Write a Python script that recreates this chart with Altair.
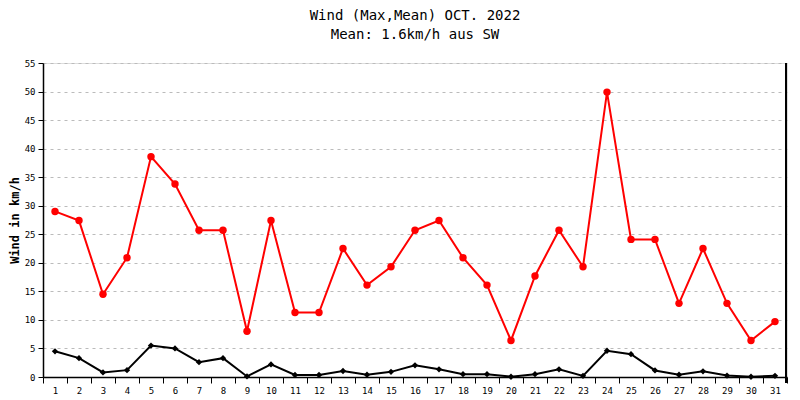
import altair as alt
import pandas as pd

days = list(range(1, 32))
wind_max = [29.0, 27.4, 14.5, 20.9, 38.6, 33.8, 25.7, 25.7, 8.0, 27.4,
            11.3, 11.3, 22.5, 16.1, 19.3, 25.7, 27.4, 20.9, 16.1, 6.4,
            17.7, 25.7, 19.3, 49.9, 24.1, 24.1, 12.9, 22.5, 12.9, 6.4, 9.7]
wind_mean = [4.5, 3.3, 0.8, 1.2, 5.5, 5.0, 2.6, 3.3, 0.1, 2.2,
             0.35, 0.35, 1.05, 0.4, 0.9, 2.05, 1.35, 0.5, 0.5, 0.05,
             0.5, 1.35, 0.2, 4.6, 4.0, 1.15, 0.4, 1.0, 0.25, 0.05, 0.2]
y_ticks = [0, 5, 10, 15, 20, 25, 30, 35, 40, 45, 50, 55]

df = pd.DataFrame({"day": days, "max": wind_max, "mean": wind_mean})

FONT = "DejaVu Sans Mono"
W, H = 744, 314

x_axis = alt.Axis(title=None, labelAngle=0, tickBand="extent", domainColor="black",
                  tickColor="black", tickSize=6, labelFont=FONT, labelFontSize=9,
                  labelColor="black", labelPadding=3, grid=False, domainWidth=1.5)
x_scale = alt.Scale(type="band", paddingInner=0, paddingOuter=0)
y_scale = alt.Scale(domain=[0, 55], nice=False)
y_axis = alt.Axis(title="Wind in km/h", values=y_ticks, titleFont=FONT, titleFontSize=12,
                  titleFontWeight="bold", titleColor="black", titlePadding=3,
                  labelFont=FONT, labelFontSize=9, labelColor="black", tickColor="black",
                  labelOverlap=False, labelBound=False, labelFlush=False,
                  tickSize=5, domainColor="black", domainWidth=1.5, grid=True,
                  gridColor="#bbbbbb", gridDash=[3, 4], gridWidth=1, labelPadding=3)


def enc(field):
    return dict(x=alt.X("day:O", scale=x_scale, axis=x_axis),
                y=alt.Y(f"{field}:Q", scale=y_scale, axis=y_axis))


base = alt.Chart(df)
red_line = base.mark_line(color="#ff0000", strokeWidth=2).encode(**enc("max"))
red_pts = base.mark_point(color="#ff0000", filled=True, opacity=1, size=55,
                          shape="circle").encode(**enc("max"))
blk_line = base.mark_line(color="black", strokeWidth=2).encode(**enc("mean"))
blk_pts = base.mark_point(color="black", filled=True, opacity=1, size=40,
                          shape="diamond").encode(**enc("mean"))
right_rule = alt.Chart(df).mark_rule(color="black", strokeWidth=1.5).encode(
    x=alt.value(W - 1), y=alt.value(0), y2=alt.value(H + 6))

chart = alt.layer(red_line, blk_line, red_pts, blk_pts, right_rule).properties(
    width=W, height=H,
    autosize=alt.AutoSizeParams(type="none"),
    padding={"left": 35, "top": 55, "right": 5, "bottom": 20},
    title=alt.TitleParams(text=["Wind (Max,Mean) OCT. 2022", "Mean: 1.6km/h aus SW"],
                          font=FONT, fontSize=14, fontWeight="normal", color="black",
                          lineHeight=19, anchor="middle", offset=17),
).configure_view(stroke=None).configure(background="white")

chart.save("out.html", embed_options={"renderer": "svg", "actions": False})
